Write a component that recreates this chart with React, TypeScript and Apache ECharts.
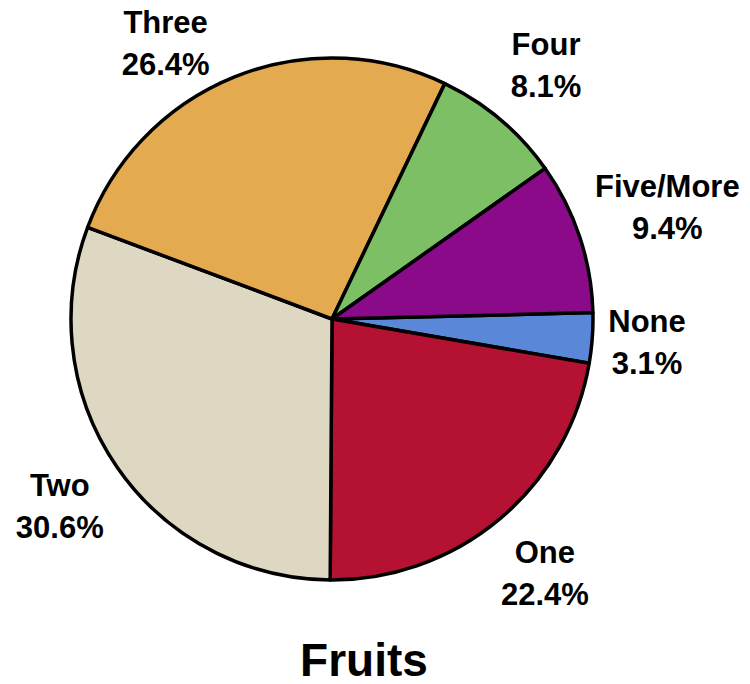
import React, { useEffect, useRef } from "react";
import * as echarts from "echarts";

const categories = ["None", "One", "Two", "Three", "Four", "Five/More"];
const percentValues = [3.1, 22.4, 30.6, 26.4, 8.1, 9.4];
const sliceColors = ["#5A87D8", "#B51233", "#DED8C3", "#E3AA4F", "#7DBF64", "#8A0A8A"];
const chartTitle = "Fruits";

const CX = 332;
const CY = 319;
const R = 261;
const START = 1.4;
const GAP = 16;
const W = 750;
const H = 684;

export default function App() {
  const ref = useRef<HTMLDivElement>(null);
  useEffect(() => {
    if (!ref.current) return;
    const chart = echarts.init(ref.current, null, { renderer: "svg" });
    const total = percentValues.reduce((a, b) => a + b, 0);
    const mids: number[] = [];
    let cum = 0;
    percentValues.forEach((v) => {
      mids.push(START - ((cum + v / 2) / total) * 360);
      cum += v;
    });
    chart.setOption({
      animation: false,
      backgroundColor: "#ffffff",
      title: {
        text: chartTitle,
        left: 359,
        top: 632,
        textAlign: "center",
        textStyle: {
          fontFamily: "Liberation Sans, Arial, sans-serif",
          fontWeight: "bold",
          fontSize: 46,
          lineHeight: 46,
          color: "#000",
        },
      },
      series: [
        {
          type: "pie",
          center: [CX, CY],
          radius: R,
          startAngle: START,
          clockwise: true,
          avoidLabelOverlap: false,
          data: categories.map((c, i) => ({
            name: c,
            value: percentValues[i],
            itemStyle: { color: sliceColors[i] },
          })),
          itemStyle: { borderColor: "#000", borderWidth: 3.5, borderJoin: "round" },
          emphasis: { disabled: true },
          label: {
            show: true,
            position: "outside",
            formatter: (p: any) => `${p.name}\n${p.value.toFixed(1)}%`,
            fontFamily: "Liberation Sans, Arial, sans-serif",
            fontWeight: "bold",
            fontSize: 31,
            lineHeight: 42,
            color: "#000",
            align: "center",
          },
          labelLine: { show: false, length: 0, length2: 0 },
          labelLayout: (params: any) => {
            const idx = params.dataIndex;
            const rect = params.labelRect;
            const w = rect.width;
            const h = rect.height;
            const th = (mids[idx] * Math.PI) / 180;
            const c = Math.abs(Math.cos(th));
            const s = Math.abs(Math.sin(th));
            const edge = Math.min(c > 1e-6 ? w / 2 / c : 1e9, s > 1e-6 ? h / 2 / s : 1e9);
            const D = R + GAP + edge;
            let x = CX + D * Math.cos(th);
            let y = CY - D * Math.sin(th);
            const minTop = 1 + h / 2;
            if (y < minTop) {
              const sn = (CY - minTop) / D;
              const sign = Math.cos(th) >= 0 ? 1 : -1;
              const cs = Math.sqrt(Math.max(0, 1 - sn * sn)) * sign;
              x = CX + D * cs;
              y = minTop;
            }
            const maxRight = W - 3 - w / 2;
            if (x > maxRight) x = maxRight;
            return { x, y, align: "center", verticalAlign: "middle" };
          },
        },
      ],
    });
    return () => chart.dispose();
  }, []);
  return (
    <div
      ref={ref}
      style={{ position: "fixed", left: 0, top: 0, width: W, height: H, background: "#fff" }}
    />
  );
}
